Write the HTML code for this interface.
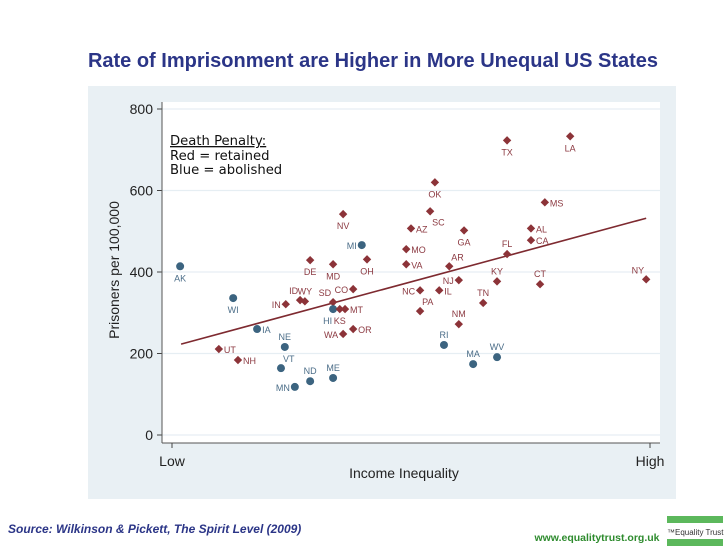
<!DOCTYPE html>
<html><head><meta charset="utf-8"><style>
html,body{margin:0;padding:0;background:#fff;width:728px;height:546px;overflow:hidden;font-family:"Liberation Sans",sans-serif}
</style></head><body>
<svg id="chart" width="728" height="546" xmlns="http://www.w3.org/2000/svg" font-family="Liberation Sans, sans-serif">
<text x="373" y="67" text-anchor="middle" font-size="20" font-weight="bold" fill="#2b3587">Rate of Imprisonment are Higher in More Unequal US States</text>
<rect x="88" y="86" width="588" height="413" fill="#e9f0f4"/>
<rect x="162" y="102" width="498" height="341" fill="#ffffff"/>
<g id="grid"></g>
<g id="axes"></g>
<g id="trend"></g>
<g id="points"></g>
<g font-family="DejaVu Sans, sans-serif" font-size="13.2" fill="#111">
<text x="170" y="145" text-decoration="underline">Death Penalty:</text>
<text x="170" y="160">Red = retained</text>
<text x="170" y="174">Blue = abolished</text>
</g>
<text transform="translate(119,270) rotate(-90)" text-anchor="middle" font-size="14" fill="#222">Prisoners per 100,000</text>
<text x="404" y="478" text-anchor="middle" font-size="14" fill="#222">Income Inequality</text>
<text x="8" y="533" font-size="12" font-style="italic" font-weight="bold" fill="#2b3587">Source: Wilkinson &amp; Pickett, The Spirit Level (2009)</text>
<text x="597" y="541" text-anchor="middle" font-size="10.5" font-weight="bold" fill="#2e8b2e">www.equalitytrust.org.uk</text>
<g>
<rect x="667" y="516" width="56" height="7" fill="#5cb85c"/>
<text x="667" y="535" font-size="8" fill="#333">™Equality Trust</text>
<rect x="667" y="539" width="56" height="7" fill="#5cb85c"/>
</g>
</svg>
<script>
const states=["AK","WI","IA","UT","NH","NE","VT","ND","MN","ME","IN","ID","WY","SD","HI","KS","MT","CO","WA","OR","DE","MD","OH","MI","NV","AZ","MO","VA","OK","SC","GA","AR","NJ","NC","IL","PA","NM","RI","MA","WV","TN","KY","FL","CT","CA","AL","MS","TX","LA","NY"];
const inequality=[1.7,12.8,17.8,9.8,13.8,23.6,22.8,28.9,25.7,33.7,23.8,26.8,27.8,33.7,33.7,35.1,36.2,37.9,35.8,37.9,28.9,33.7,40.8,39.7,35.8,50,49,49,55,54,61.1,58,60,51.9,55.9,51.9,60,56.9,63,68,65.1,68,70.1,77,75.1,75.1,78,70.1,83.3,99.2];
const prisoners=[414,336,260,211,184,216,164,132,118,140,321,331,328,326,309,309,309,358,248,260,429,419,431,466,542,507,456,419,620,549,502,414,380,355,355,304,272,221,174,191,324,377,444,370,478,507,571,723,733,382];
const deathPenalty=["n","n","n","y","y","n","n","n","n","n","y","y","y","y","n","y","y","y","y","y","y","y","y","n","y","y","y","y","y","y","y","y","y","y","y","y","y","n","n","n","y","y","y","y","y","y","y","y","y","y"];
const labelSide=["b","b","r","r","r","t","tr","t","l","t","l","tl","t","tl","bl","b","r","l","l","r","b","b","b","l","b","r","r","r","b","br","b","tr","l","l","r","tr","t","t","t","t","t","t","t","t","r","r","r","b","b","tl"];
const yTicks=[0,200,400,600,800];
const xTickLabels=["Low","High"];
const xTickValues=[0,100];
const trendX=[1.9,99.2];
const trendY=[223,532];

const NS="http://www.w3.org/2000/svg";
const xS=v=>172+v*4.78;
const yS=v=>435-v*0.4075;
function mk(tag,attrs,parent){const e=document.createElementNS(NS,tag);for(const k in attrs)e.setAttribute(k,attrs[k]);parent.appendChild(e);return e;}
const grid=document.getElementById('grid'),axes=document.getElementById('axes'),trend=document.getElementById('trend'),pts=document.getElementById('points');

yTicks.forEach(t=>{
  const y=yS(t);
  const g=mk('line',{x1:162,x2:660,y1:y,y2:y,stroke:'#e6eef3','stroke-width':1.2},grid);
  
  
  const tk=mk('line',{x1:157,x2:162,y1:y,y2:y,stroke:'#444'},axes);
  
  
  const tl=mk('text',{x:153,y:y+5,'text-anchor':'end','font-size':14,fill:'#222'},axes);
  tl.textContent=t;
  
  
});
const ya=mk('line',{x1:162,x2:162,y1:102,y2:443,stroke:'#555'},axes);


const xa=mk('line',{x1:162,x2:660,y1:443,y2:443,stroke:'#555'},axes);


xTickValues.forEach((v,i)=>{
  const x=xS(v);
  const tk=mk('line',{x1:x,x2:x,y1:443,y2:448,stroke:'#444'},axes);
  
  
  const tl=mk('text',{x:x,y:466,'text-anchor':'middle','font-size':14,fill:'#222'},axes);
  tl.textContent=xTickLabels[i];
  
  
});
const tr=mk('line',{x1:xS(trendX[0]),y1:yS(trendY[0]),x2:xS(trendX[1]),y2:yS(trendY[1]),stroke:'#7e2a30','stroke-width':1.6},trend);



states.forEach((s,i)=>{
  const x=xS(inequality[i]),y=yS(prisoners[i]);
  const red=deathPenalty[i]==="y";
  const col=red?'#8c3338':'#3c6480';
  let m;
  if(red){m=mk('path',{d:`M${x} ${y-4.2}L${x+4.2} ${y}L${x} ${y+4.2}L${x-4.2} ${y}Z`,fill:col},pts);}
  else{m=mk('circle',{cx:x,cy:y,r:4,fill:col},pts);}
  
  
  const side=labelSide[i];
  let lx=x,ly=y,anc='middle';
  if(side==='b'){ly=y+15;}
  else if(side==='t'){ly=y-7;}
  else if(side==='r'){lx=x+5;ly=y+4;anc='start';}
  else if(side==='l'){lx=x-5;ly=y+4;anc='end';}
  else if(side==='tr'){lx=x+2;ly=y-6;anc='start';}
  else if(side==='tl'){lx=x-2;ly=y-6;anc='end';}
  else if(side==='bl'){lx=x-1;ly=y+15;anc='end';}
  else if(side==='br'){lx=x+2;ly=y+14;anc='start';}
  const t=mk('text',{x:lx,y:ly,'text-anchor':anc,'font-size':9,fill:red?'#8c3a42':'#4b6d88'},pts);
  t.textContent=s;
  
  
});
</script>
</body></html>
